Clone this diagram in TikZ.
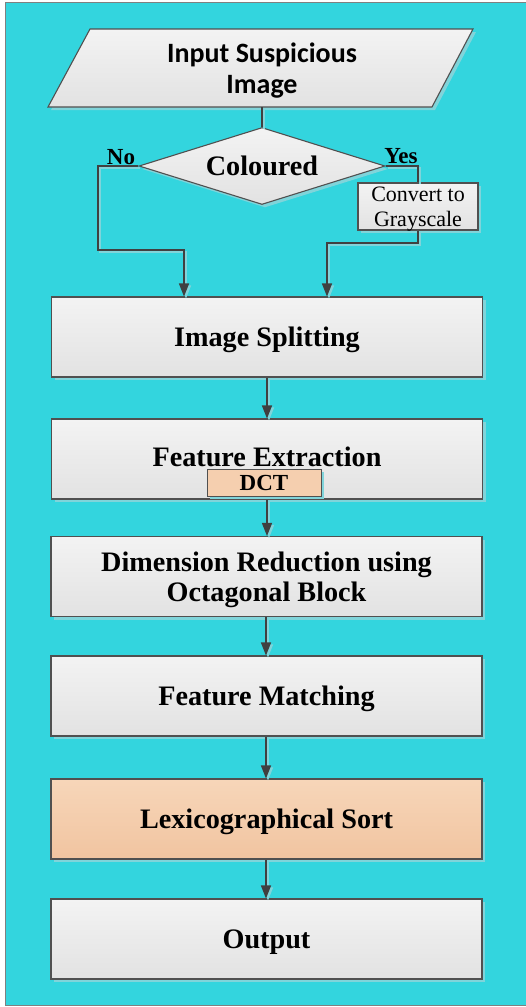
\documentclass[tikz,border=0pt]{standalone}
\usepackage{fontspec}
\setmainfont{Liberation Serif}
\newfontfamily\calib{Carlito}
\usetikzlibrary{arrows.meta,shapes.geometric,shadows}
\definecolor{bgc}{RGB}{51,213,222}
\definecolor{shc}{RGB}{128,212,218}
\definecolor{edgec}{RGB}{80,80,80}
\definecolor{linec}{RGB}{64,64,64}
\definecolor{gtop}{RGB}{243,243,243}
\definecolor{gbot}{RGB}{226,226,226}
\definecolor{otop}{RGB}{247,214,185}
\definecolor{obot}{RGB}{241,196,160}
\begin{document}
\begin{tikzpicture}[x=1pt,y=-1pt,
  shad/.style={drop shadow={shadow xshift=3pt,shadow yshift=-3pt,fill=shc,opacity=1}},
  gfill/.style={draw=edgec,line width=1.1pt,top color=gtop,bottom color=gbot,shad},
  gbox/.style={gfill,minimum width=431pt,minimum height=80pt,inner sep=0pt,text depth=0pt,
    font=\fontsize{28.2}{30}\selectfont\bfseries,align=center},
  obox/.style={gbox,top color=otop,bottom color=obot},
  conn/.style={draw=linec,line width=1.3pt,
    preaction={draw=shc,line width=1.3pt,transform canvas={shift={(2pt,-2pt)}}}},
  arr/.style={conn,-{Triangle[length=13pt,width=10pt]}},
  lbl/.style={font=\fontsize{23}{25}\selectfont\bfseries,inner sep=0pt}]
\useasboundingbox (0,0) rectangle (526,1007);
\fill[bgc] (5,2) rectangle (526,1005);
\draw[gray,line width=1pt] (526,2) -- (5,2) -- (5,1005) -- (526,1005);

% input parallelogram
\path[gfill] (90,29) -- (473,29) -- (432,107) -- (48,107) -- cycle;
\node[font=\calib\fontsize{28}{31}\selectfont\bfseries,align=center,text depth=0pt] (inp) at (262,68) {Input Suspicious\\Image};
\coordinate (inbot) at (262,107);

% decision
\node[diamond,gfill,minimum width=246pt,minimum height=77pt,inner sep=0pt,aspect=3.2,
  font=\fontsize{28.2}{30}\selectfont\bfseries] (dia) at (262,166) {Coloured};
\node[lbl] (no) at (121,157) {No};
\node[lbl] (yes) at (401,156) {Yes};

\node[gfill,minimum width=120pt,minimum height=47pt,inner sep=0pt,text depth=0pt,
  font=\fontsize{22}{25}\selectfont,align=center] (conv) at (418,206.5) {Convert to\\Grayscale};

% process boxes
\node[gbox] (split) at (267,337) {Image Splitting};
\node[gbox,text depth=4pt] (feat) at (267,459) {Feature Extraction};
\node[draw=edgec,line width=1pt,fill=otop!60!obot,shad,minimum width=114pt,minimum height=27pt,
  inner sep=0pt,font=\fontsize{23}{25}\selectfont\bfseries] (dct) at (264,482.5) {DCT};
\node[gbox] (dim) at (266.5,576.5) {Dimension Reduction using\\Octagonal Block};
\node[gbox] (match) at (266.5,696) {Feature Matching};
\node[obox] (lex) at (266.5,819) {Lexicographical Sort};
\node[gbox] (out) at (266.5,939) {Output};

% connectors
\coordinate (nojog) at (184,250);
\coordinate (yesjog) at (327,243);
\draw[conn] (inbot) -- (dia.north);
\draw[arr] (dia.west) -| (98,250) -- (nojog) -- (nojog |- split.north);
\draw[conn] (dia.east) -| (conv.north);
\draw[arr] (conv.south) |- (yesjog) -- (yesjog |- split.north);
\draw[arr] (split.south -| 267,0) -- (feat.north -| 267,0);
\draw[arr] (feat.south -| 267,0) -- (dim.north -| 267,0);
\draw[arr] (dim.south -| 266,0) -- (match.north -| 266,0);
\draw[arr] (match.south -| 266,0) -- (lex.north -| 266,0);
\draw[arr] (lex.south -| 266,0) -- (out.north -| 266,0);
\end{tikzpicture}
\end{document}
